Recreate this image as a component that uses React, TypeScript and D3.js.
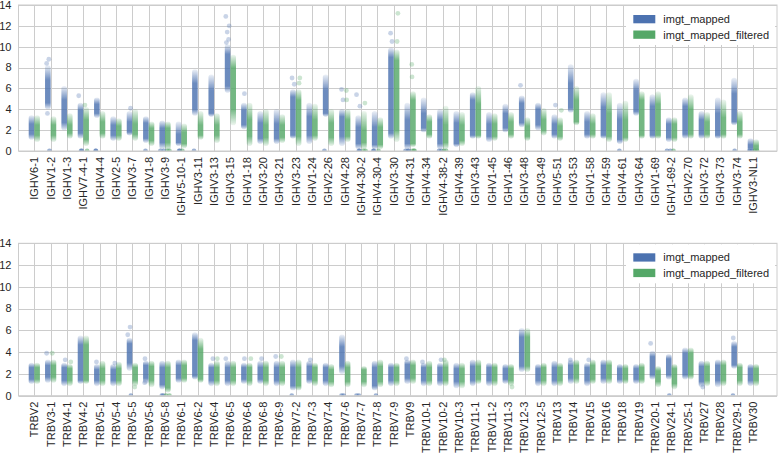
import React from "react";
import * as d3 from "d3";

const C = {
  blue: "#4c72b0", green: "#55a868", grid: "#cccccc", text: "#262626",
};
const FONT = "'Liberation Sans', Arial, sans-serif";
const W = 781, H = 456;
const PLOT_L = 18.5, PLOT_R = 777;
const X0 = 34.3, X1 = 753.3;
const DODGE = 2.8, STRIP_W = 5.6, R = 2.4;
const Y_TICKS = [0, 2, 4, 6, 8, 10, 12, 14];
const JITTER = [-1.2, 1.0, -0.4, 1.6, -1.8, 0.5, 1.3, -0.9];

type Strip = [number, number, number, number] | null; // lo, core lo, core hi, hi
type Pt = [number, number]; // gene index, value

// ── IGHV panel ──
const IGHV_GENES = [
  "IGHV6-1", "IGHV1-2", "IGHV1-3", "IGHV7-4-1", "IGHV4-4", "IGHV2-5", "IGHV3-7", "IGHV1-8",
  "IGHV3-9", "IGHV5-10-1", "IGHV3-11", "IGHV3-13", "IGHV3-15", "IGHV1-18", "IGHV3-20",
  "IGHV3-21", "IGHV3-23", "IGHV1-24", "IGHV2-26", "IGHV4-28", "IGHV4-30-2", "IGHV4-30-4",
  "IGHV3-30", "IGHV4-31", "IGHV4-34", "IGHV4-38-2", "IGHV4-39", "IGHV3-43", "IGHV1-45",
  "IGHV1-46", "IGHV3-48", "IGHV3-49", "IGHV5-51", "IGHV3-53", "IGHV1-58", "IGHV4-59",
  "IGHV4-61", "IGHV3-64", "IGHV1-69", "IGHV1-69-2", "IGHV2-70", "IGHV3-72", "IGHV3-73",
  "IGHV3-74", "IGHV3-NL1",
];
const IGHV_MAPPED: Strip[] = [
  [1.3, 1.6, 2.6, 3.2], [4.2, 4.6, 6.8, 8.0], [2.2, 2.7, 4.9, 6.0], [1.4, 1.7, 3.9, 4.4],
  [3.4, 3.6, 4.5, 4.9], [1.2, 1.5, 2.5, 3.1], [1.7, 1.8, 2.8, 3.6], [1.0, 1.2, 2.7, 3.1],
  [0.4, 0.8, 2.2, 2.7], [0.7, 0.8, 1.6, 2.6], [3.6, 4.0, 6.5, 7.6], [3.5, 3.6, 5.8, 7.1],
  [5.8, 6.2, 9.3, 10.0], [2.3, 2.5, 3.9, 4.4], [0.9, 1.2, 2.7, 3.6], [0.9, 1.2, 2.6, 3.8],
  [1.4, 1.5, 5.2, 5.7], [0.9, 1.5, 3.3, 4.4], [3.5, 3.6, 5.8, 7.1], [0.7, 1.4, 3.3, 3.8],
  [0.4, 0.7, 2.3, 3.2], [0.4, 0.6, 2.3, 3.6], [1.4, 1.7, 9.0, 9.7], [0.4, 0.7, 3.0, 4.4],
  [2.0, 2.2, 3.6, 4.9], [0.4, 0.7, 3.0, 3.8], [0.6, 0.7, 2.7, 3.6], [1.4, 1.5, 4.9, 5.4],
  [1.1, 1.4, 2.6, 3.5], [2.0, 2.2, 3.6, 4.3], [2.5, 2.7, 4.6, 5.1], [2.2, 2.5, 4.0, 4.4],
  [1.4, 1.6, 2.6, 3.3], [3.9, 4.1, 6.5, 8.1], [1.4, 1.6, 2.8, 3.6], [1.4, 1.5, 4.2, 5.4],
  [0.9, 1.1, 3.0, 4.4], [3.6, 3.8, 5.8, 6.7], [1.4, 1.5, 4.3, 5.2], [1.1, 1.3, 2.6, 3.0],
  [1.4, 1.6, 4.3, 4.9], [1.4, 1.6, 3.0, 3.6], [1.4, 1.5, 3.6, 4.9], [2.7, 2.8, 5.5, 6.8],
  [0.1, 0.3, 0.6, 1.0],
];
const IGHV_FILTERED: Strip[] = [
  [1.1, 1.5, 2.5, 3.2], [1.1, 1.5, 2.5, 3.1], [1.4, 1.7, 2.5, 3.4], [0.7, 1.1, 3.0, 4.0],
  [1.4, 1.7, 2.8, 3.6], [1.2, 1.5, 2.4, 2.9], [1.2, 1.6, 2.6, 3.8], [0.7, 1.0, 2.2, 2.6],
  [0.3, 0.8, 2.2, 2.6], [0.5, 0.7, 1.8, 2.4], [1.3, 1.5, 2.5, 3.6], [1.0, 1.5, 2.5, 3.4],
  [2.7, 4.0, 8.0, 9.0], [0.7, 1.4, 3.0, 4.4], [0.7, 1.3, 2.5, 3.8], [1.0, 1.3, 2.5, 3.3],
  [0.7, 1.4, 4.9, 5.7], [1.2, 1.5, 3.0, 4.3], [0.7, 1.3, 2.7, 3.8], [1.1, 1.4, 3.0, 3.8],
  [0.4, 0.8, 2.0, 3.6], [0.4, 0.6, 2.3, 3.0], [1.1, 2.0, 8.7, 9.5], [0.6, 0.7, 4.9, 5.5],
  [1.4, 1.6, 2.8, 3.3], [0.4, 0.8, 2.5, 4.1], [0.7, 1.0, 2.5, 3.5], [1.4, 1.5, 4.5, 6.0],
  [1.2, 1.4, 2.6, 3.4], [1.4, 1.6, 2.8, 3.5], [1.2, 1.4, 2.4, 3.0], [1.7, 2.0, 3.0, 3.9],
  [1.2, 1.4, 2.4, 3.0], [2.7, 2.8, 4.9, 6.0], [1.4, 1.6, 2.6, 3.4], [1.1, 1.4, 3.6, 5.4],
  [1.1, 1.3, 3.0, 4.6], [1.4, 1.5, 4.9, 5.5], [1.4, 1.5, 4.5, 5.5], [1.1, 1.3, 2.6, 3.0],
  [1.4, 1.6, 4.0, 5.2], [1.4, 1.6, 2.8, 3.5], [1.4, 1.6, 3.2, 4.7], [1.4, 1.6, 2.8, 3.6],
  [0.1, 0.2, 0.5, 0.9],
];
const IGHV_MAPPED_PTS: Pt[] = [
  [1, 8.4], [1, 8.8], [1, 3.6], [1, 0], [3, 5.3], [3, 0], [3, 0], [4, 0], [4, 0], [6, 4.1],
  [7, 0], [8, 0], [8, 0], [9, 0], [9, 0], [10, 0], [12, 10.4], [12, 10.7], [12, 11.4],
  [12, 12.0], [12, 12.9], [13, 5.5], [16, 6.4], [16, 7.0], [18, 0], [19, 4.9], [19, 5.9],
  [20, 4.3], [20, 5.4], [20, 0], [20, 0], [21, 0], [21, 0], [22, 10.5], [22, 11.3],
  [23, 0], [23, 0], [23, 0], [25, 0], [25, 0], [30, 6.3], [32, 4.4], [36, 0], [39, 0],
  [39, 0], [43, 0], [44, 0], [44, 0],
];
const IGHV_FILTERED_PTS: Pt[] = [
  [3, 4.4], [3, 0], [8, 0], [8, 0], [9, 0], [16, 6.5], [16, 7.0], [19, 4.9], [19, 5.8],
  [20, 4.6], [20, 0], [20, 0], [21, 0], [22, 10.5], [22, 13.2], [23, 7.1], [23, 8.3],
  [23, 0], [23, 0], [23, 0], [25, 0], [25, 0], [32, 3.9], [39, 0], [44, 0], [44, 0],
];

// ── TRBV panel ──
const TRBV_GENES = [
  "TRBV2", "TRBV3-1", "TRBV4-1", "TRBV4-2", "TRBV5-1", "TRBV5-4", "TRBV5-5", "TRBV5-6",
  "TRBV5-8", "TRBV6-1", "TRBV6-2", "TRBV6-4", "TRBV6-5", "TRBV6-6", "TRBV6-8", "TRBV6-9",
  "TRBV7-2", "TRBV7-3", "TRBV7-4", "TRBV7-6", "TRBV7-7", "TRBV7-8", "TRBV7-9", "TRBV9",
  "TRBV10-1", "TRBV10-2", "TRBV10-3", "TRBV11-1", "TRBV11-2", "TRBV11-3", "TRBV12-3",
  "TRBV12-5", "TRBV13", "TRBV14", "TRBV15", "TRBV16", "TRBV18", "TRBV19", "TRBV20-1",
  "TRBV24-1", "TRBV25-1", "TRBV27", "TRBV28", "TRBV29-1", "TRBV30",
];
const TRBV_MAPPED: Strip[] = [
  [1.3, 1.5, 2.6, 2.8], [1.4, 1.7, 2.8, 3.1], [1.1, 1.4, 2.6, 2.8], [1.3, 1.4, 4.7, 5.3],
  [1.1, 1.4, 2.4, 2.7], [1.1, 1.4, 2.4, 2.7], [2.5, 3.0, 4.8, 5.1], [1.3, 1.6, 2.8, 3.0],
  [0.8, 1.0, 2.6, 3.0], [1.4, 1.6, 2.8, 3.1], [1.7, 1.8, 5.1, 5.6], [1.1, 1.4, 2.6, 2.8],
  [1.1, 1.4, 2.6, 3.0], [1.3, 1.5, 2.6, 2.8], [1.3, 1.5, 2.6, 3.0], [1.1, 1.4, 2.6, 3.0],
  [0.7, 0.9, 2.6, 3.1], [1.3, 1.5, 2.7, 3.0], [1.1, 1.4, 2.6, 2.8], [2.2, 2.7, 4.5, 5.4],
  null, [0.7, 0.9, 2.6, 3.0], [1.1, 1.4, 2.6, 2.8], [1.3, 1.6, 2.9, 3.1],
  [1.1, 1.4, 2.6, 2.8], [1.1, 1.4, 2.6, 2.8], [0.9, 1.3, 2.5, 2.8], [1.1, 1.4, 2.7, 3.1],
  [1.1, 1.4, 2.6, 2.8], [1.3, 1.5, 2.5, 2.7], [2.4, 2.7, 5.4, 6.0], [1.1, 1.4, 2.5, 2.7],
  [1.1, 1.4, 2.6, 3.0], [1.3, 1.6, 2.8, 3.1], [1.1, 1.4, 2.6, 2.8], [1.3, 1.6, 2.8, 3.1],
  [1.3, 1.5, 2.5, 2.7], [1.3, 1.5, 2.5, 2.7], [1.7, 1.9, 3.6, 3.9], [1.7, 1.9, 3.4, 3.6],
  [1.7, 1.9, 3.9, 4.2], [1.0, 1.3, 2.7, 3.0], [1.0, 1.4, 2.8, 3.1], [2.7, 2.8, 4.5, 4.8],
  [1.1, 1.4, 2.5, 2.7],
];
const TRBV_FILTERED: Strip[] = [
  [1.3, 1.5, 2.6, 2.8], [1.4, 1.7, 2.8, 3.1], [1.1, 1.4, 2.5, 2.7], [1.3, 1.4, 4.7, 5.3],
  [1.1, 1.4, 2.5, 3.0], [1.1, 1.4, 2.5, 2.9], [1.1, 1.4, 2.6, 2.8], [1.0, 1.4, 2.7, 3.0],
  [0.5, 0.7, 2.6, 3.0], [1.4, 1.6, 2.8, 3.1], [1.4, 1.5, 4.3, 5.1], [1.1, 1.4, 2.6, 3.0],
  [1.1, 1.4, 2.6, 3.0], [1.1, 1.4, 2.6, 2.8], [1.1, 1.4, 2.6, 3.0], [1.1, 1.4, 2.6, 3.0],
  [0.7, 0.9, 2.6, 3.1], [1.1, 1.4, 2.6, 2.8], [1.0, 1.3, 2.4, 2.7], [1.0, 1.3, 2.6, 3.0],
  [1.0, 1.3, 2.4, 2.5], [1.0, 1.3, 2.7, 3.1], [1.1, 1.4, 2.6, 2.8], [1.3, 1.6, 2.8, 3.1],
  [1.1, 1.4, 2.6, 3.0], [1.1, 1.4, 2.6, 3.1], [0.9, 1.3, 2.5, 2.8], [1.3, 1.5, 2.7, 3.1],
  [1.1, 1.4, 2.6, 2.8], [1.1, 1.4, 2.5, 2.7], [2.4, 2.7, 5.4, 6.0], [1.1, 1.4, 2.6, 2.8],
  [1.1, 1.4, 2.6, 2.8], [1.3, 1.6, 2.8, 3.1], [1.3, 1.5, 2.8, 3.1], [1.3, 1.6, 2.8, 3.1],
  [1.3, 1.5, 2.5, 2.7], [1.3, 1.5, 2.6, 2.8], [1.0, 1.3, 2.3, 2.5], [0.8, 1.1, 2.5, 2.7],
  [1.7, 1.9, 3.9, 4.2], [1.1, 1.4, 2.7, 3.0], [1.1, 1.4, 2.8, 3.1], [1.1, 1.4, 2.6, 2.8],
  [1.1, 1.4, 2.5, 2.7],
];
const TRBV_MAPPED_PTS: Pt[] = [
  [1, 3.9], [2, 3.3], [4, 3.1], [5, 3.0], [6, 5.6], [6, 6.3], [6, 0], [7, 3.4], [7, 1.2],
  [8, 0], [8, 0], [11, 3.4], [12, 3.4], [13, 3.4], [14, 3.4], [15, 3.6], [16, 0], [17, 3.3],
  [19, 0], [19, 0], [20, 0], [20, 0], [21, 0], [23, 3.4], [24, 3.1], [25, 3.3], [33, 3.3],
  [34, 3.3], [38, 4.8], [39, 0], [41, 0.8], [43, 5.3], [43, 0],
];
const TRBV_FILTERED_PTS: Pt[] = [
  [1, 3.9], [2, 3.1], [6, 0.8], [8, 0], [8, 0], [11, 3.4], [13, 3.4], [15, 3.6], [25, 3.3],
  [29, 0.8],
];

const SERIES = ["imgt_mapped", "imgt_mapped_filtered"];

type Panel = {
  id: string; genes: string[]; mapped: Strip[]; filtered: Strip[];
  mappedPts: Pt[]; filteredPts: Pt[]; top: number; bottom: number;
};
const PANELS: Panel[] = [
  { id: "ighv", genes: IGHV_GENES, mapped: IGHV_MAPPED, filtered: IGHV_FILTERED,
    mappedPts: IGHV_MAPPED_PTS, filteredPts: IGHV_FILTERED_PTS, top: 5, bottom: 151 },
  { id: "trbv", genes: TRBV_GENES, mapped: TRBV_MAPPED, filtered: TRBV_FILTERED,
    mappedPts: TRBV_MAPPED_PTS, filteredPts: TRBV_FILTERED_PTS, top: 243.3, bottom: 395.7 },
];

const px = (v: number) => Math.round(v) + 0.5;

function StripPanel({ p }: { p: Panel }) {
  const x = d3.scalePoint<string>().domain(p.genes).range([X0, X1]);
  const y = d3.scaleLinear().domain([0, 14]).range([p.bottom, p.top]);
  const clip = `clip-${p.id}`;
  const hues = [
    { key: "m", color: C.blue, strips: p.mapped, pts: p.mappedPts, dx: -DODGE },
    { key: "f", color: C.green, strips: p.filtered, pts: p.filteredPts, dx: DODGE },
  ];

  return (
    <g>
      <defs>
        <clipPath id={clip}>
          <rect x={PLOT_L} y={p.top} width={PLOT_R - PLOT_L} height={p.bottom - p.top} />
        </clipPath>
        <filter id={`soft-${p.id}`} x="-50%" y="-10%" width="200%" height="120%">
          <feGaussianBlur stdDeviation="0.6" />
        </filter>
        {hues.map(h => h.strips.map((s, i) => {
          if (!s) return null;
          const [lo, q1, q3, hi] = s;
          const span = hi - lo + 0.5;
          return (
            <linearGradient key={h.key + i} id={`g-${p.id}-${h.key}-${i}`} x1={0} y1={0} x2={0} y2={1}>
              <stop offset="0%" stopColor={h.color} stopOpacity={0.1} />
              <stop offset={`${((hi - q3 + 0.25) / span) * 100}%`} stopColor={h.color} stopOpacity={0.82} />
              <stop offset={`${((hi - q1 + 0.25) / span) * 100}%`} stopColor={h.color} stopOpacity={0.82} />
              <stop offset="100%" stopColor={h.color} stopOpacity={0.1} />
            </linearGradient>
          );
        }))}
      </defs>

      {/* grid */}
      {Y_TICKS.map(t => (
        <line key={t} x1={PLOT_L} x2={PLOT_R} y1={px(y(t))} y2={px(y(t))} stroke={C.grid} />
      ))}
      {p.genes.map(g => (
        <line key={g} x1={px(x(g)!)} x2={px(x(g)!)} y1={p.top} y2={p.bottom} stroke={C.grid} />
      ))}

      {/* strips */}
      <g clipPath={`url(#${clip})`}>
        <g filter={`url(#soft-${p.id})`}>
          {hues.map(h => h.strips.map((s, i) => {
            if (!s) return null;
            const [lo, , , hi] = s;
            const cx = x(p.genes[i])! + h.dx;
            return (
              <rect key={h.key + i} x={cx - STRIP_W / 2} width={STRIP_W}
                y={y(hi) - R} height={y(lo) - y(hi) + 2 * R} rx={STRIP_W / 2}
                fill={`url(#g-${p.id}-${h.key}-${i})`} />
            );
          }))}
        </g>
        {hues.map(h => h.pts.map(([gi, v], k) => (
          <circle key={h.key + "p" + k} cx={x(p.genes[gi])! + h.dx + JITTER[k % JITTER.length]}
            cy={y(v)} r={R} fill={h.color} opacity={v === 0 ? 0.55 : 0.3} />
        )))}
      </g>

      {/* frame */}
      <rect x={PLOT_L} y={p.top} width={PLOT_R - PLOT_L} height={p.bottom - p.top}
        fill="none" stroke={C.grid} />

      {/* y ticks */}
      {Y_TICKS.map(t => (
        <text key={t} x={11.5} y={y(t)} dy="0.35em" textAnchor="end" fontSize={11}
          fontFamily={FONT} fill={C.text}>{t}</text>
      ))}
      {/* x ticks */}
      {p.genes.map(g => (
        <text key={g} transform={`translate(${x(g)},${p.bottom + 6}) rotate(-90)`} dy="0.35em"
          textAnchor="end" fontSize={11} fontFamily={FONT} fill={C.text}>{g}</text>
      ))}

      {/* legend */}
      <rect x={626} y={p.top + 1} width={149} height={39} fill="#fff" />
      {SERIES.map((s, k) => (
        <g key={s} transform={`translate(633.3,${p.top + 10 + k * 15.5})`}>
          <rect width={22} height={8.3} fill={k === 0 ? C.blue : C.green} />
          <text x={30} y={4.2} dy="0.35em" fontSize={11} fontFamily={FONT} fill={C.text}>{s}</text>
        </g>
      ))}
    </g>
  );
}

export default function App() {
  return (
    <div style={{ position: "fixed", left: 0, top: 0, width: W, height: H, background: "#fff" }}>
      <svg width={W} height={H} style={{ display: "block" }}>
        <rect width={W} height={H} fill="#fff" />
        {PANELS.map(p => <StripPanel key={p.id} p={p} />)}
      </svg>
    </div>
  );
}
